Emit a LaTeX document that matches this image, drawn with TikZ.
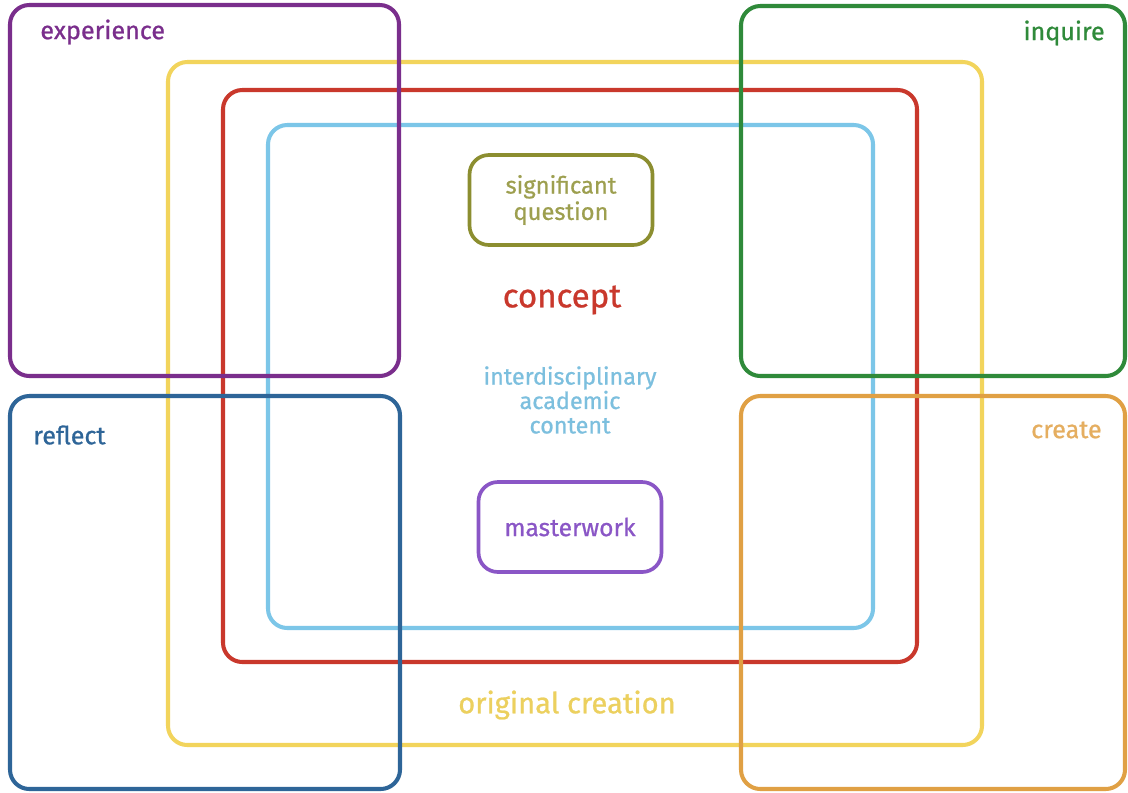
\documentclass[tikz,border=0pt]{standalone}
\usepackage{fontspec}
\setmainfont{Fira Sans}[FakeBold=0.8]
\definecolor{expcol}{HTML}{7A2E8C}
\definecolor{inqcol}{HTML}{2F8A3A}
\definecolor{refcol}{HTML}{2E6598}
\definecolor{crecol}{HTML}{E0A044}
\definecolor{origcol}{HTML}{F2D45C}
\definecolor{conccol}{HTML}{C9382C}
\definecolor{contcol}{HTML}{7CC6E8}
\definecolor{quescol}{HTML}{8C8E30}
\definecolor{mastcol}{HTML}{8A56C6}

\tikzset{
  frame/.style={line width=2.3pt, rounded corners=11pt},
  tag/.style={font=\fontsize{14.3}{16}\selectfont, inner sep=0pt},
  inbox/.style={draw, line width=2.1pt, rounded corners=11pt, align=center,
    minimum width=3.66cm, minimum height=1.8cm,
    font=\fontsize{13.5}{14}\selectfont},
}

\begin{document}
\begin{tikzpicture}[x=0.02cm, y=-0.02cm]
\useasboundingbox[fill=white] (0,0) rectangle (1128,792);

% nested frames
\draw[frame, origcol] (168,62) rectangle (982,745);
\draw[frame, conccol] (223,90) rectangle (917,662);
\draw[frame, contcol] (268,125) rectangle (873,628);

% corner frames
\draw[frame, expcol] (10,5) rectangle (399,376);
\draw[frame, inqcol] (741,6) rectangle (1125,376);
\draw[frame, refcol] (10,396) rectangle (400,789);
\draw[frame, crecol] (741,396) rectangle (1125,789);

\begin{scope}[every node/.style={tag}]
    \node[anchor=west, text=expcol] (exp) at (40,32) {experience};
    \node[anchor=east, text=inqcol] (inq) at (1105,33) {inquire};
    \node[anchor=west, text=refcol] (refl) at (33,435) {reflect};
    \node[anchor=east, text=crecol!85] (cre) at (1102,430) {create};
\end{scope}

\node[inbox, quescol, text=quescol!85] (ques) at (561,200) {significant\\[1pt]question};
\node[inbox, mastcol, text=mastcol, font=\fontsize{14}{15}\selectfont] (mast) at (570,527) {masterwork};

\node[text=conccol, font=\fontsize{18.8}{20}\selectfont] (conc) at (562,300) {concept};
\node[text=contcol!90!gray, align=center, font=\fontsize{13.3}{13.9}\selectfont] (cont) at (570,400)
  {interdisciplinary\\academic\\content};
\node[text=origcol!95!gray, font=\fontsize{16.6}{18}\selectfont] (orig) at (567,705) {original creation};
\end{tikzpicture}
\end{document}
